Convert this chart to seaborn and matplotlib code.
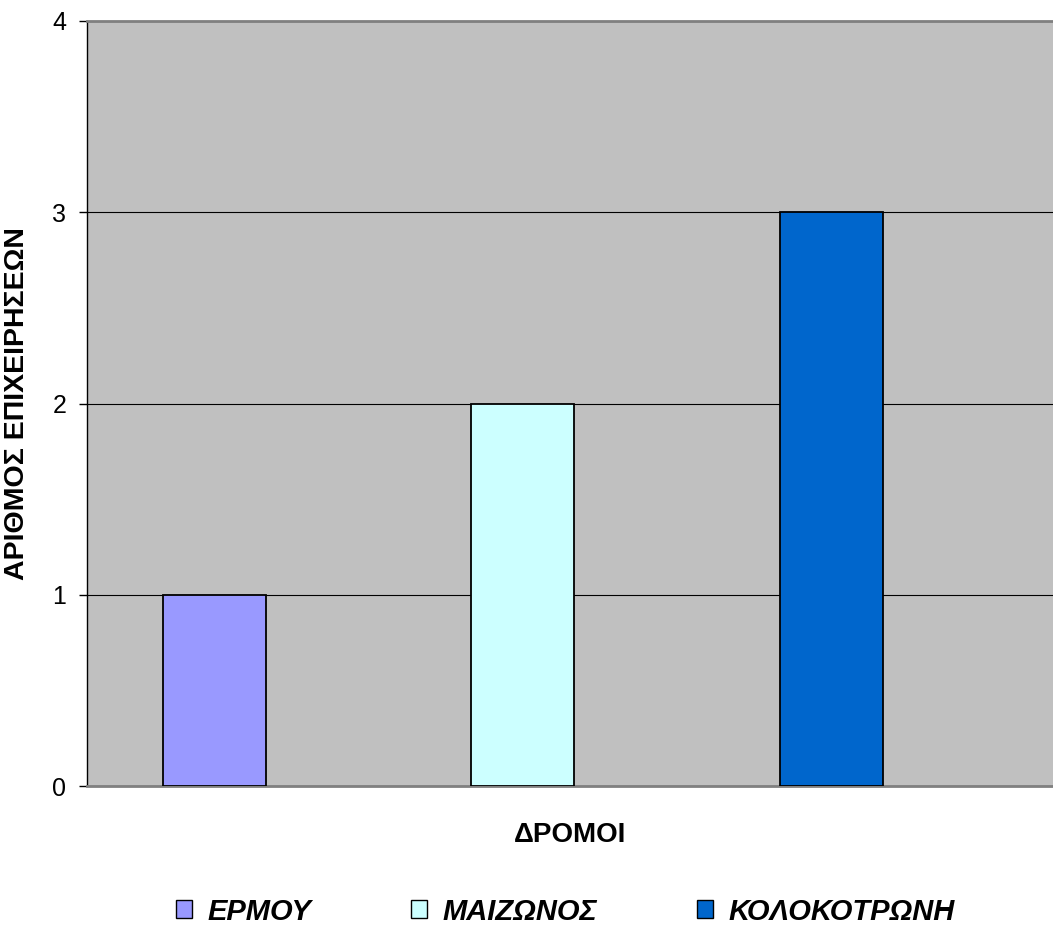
import matplotlib
matplotlib.use('Agg')
import matplotlib.pyplot as plt
import seaborn as sns
import pandas as pd

# data
streets = ['ΕΡΜΟΥ', 'ΜΑΙΖΩΝΟΣ', 'ΚΟΛΟΚΟΤΡΩΝΗ']
businesses = [1, 2, 3]
bar_colors = ['#9999FF', '#CCFFFF', '#0066CC']

sns.set_style('white')
plt.rcParams['font.family'] = ['Liberation Sans', 'DejaVu Sans']
plt.rcParams['text.color'] = 'black'
plt.rcParams['axes.labelcolor'] = 'black'
plt.rcParams['ytick.color'] = 'black'

df = pd.DataFrame({'street': streets, 'count': businesses})

fig = plt.figure(figsize=(10.53, 9.34), dpi=100)
ax = fig.add_axes([87 / 1053, 1 - 786 / 934, 1 - 87 / 1053, (786 - 21) / 934])
ax.set_facecolor('#C0C0C0')

sns.barplot(data=df, x='street', y='count', hue='street', palette=bar_colors,
            saturation=1, width=0.334, edgecolor='black', linewidth=1.3,
            dodge=False, legend=False, ax=ax, zorder=3)

ax.set_xlim(-0.413, 2.718)
ax.set_ylim(0, 4)
ax.set_yticks([0, 1, 2, 3, 4])
ax.set_xticks([])
ax.grid(axis='y', color='black', linewidth=0.8, zorder=1)
ax.set_axisbelow(True)
ax.tick_params(axis='y', labelsize=18, length=6, width=1, pad=9,
               direction='out', left=True)

for side in ['top', 'bottom']:
    ax.spines[side].set_color('#808080')
    ax.spines[side].set_linewidth(2)
ax.spines['right'].set_visible(False)
ax.spines['left'].set_color('black')
ax.spines['left'].set_linewidth(1)

ax.set_xlabel('ΔΡΟΜΟΙ', fontsize=20, fontweight='bold', labelpad=26)
ax.set_ylabel('ΑΡΙΘΜΟΣ ΕΠΙΧΕΙΡΗΣΕΩΝ', fontsize=20.5, fontweight='bold', labelpad=16)

handles = [plt.Rectangle((0, 0), 1, 1, facecolor=c, edgecolor='black', linewidth=1)
           for c in bar_colors]
fig.legend(handles, streets, loc='center', bbox_to_anchor=(0.537, 0.024), ncol=3,
           frameon=False, handlelength=0.55, handleheight=0.55, handletextpad=0.55,
           columnspacing=3.4,
           prop={'size': 21, 'weight': 'bold', 'style': 'italic'})

fig.savefig('out.png', dpi=100)
